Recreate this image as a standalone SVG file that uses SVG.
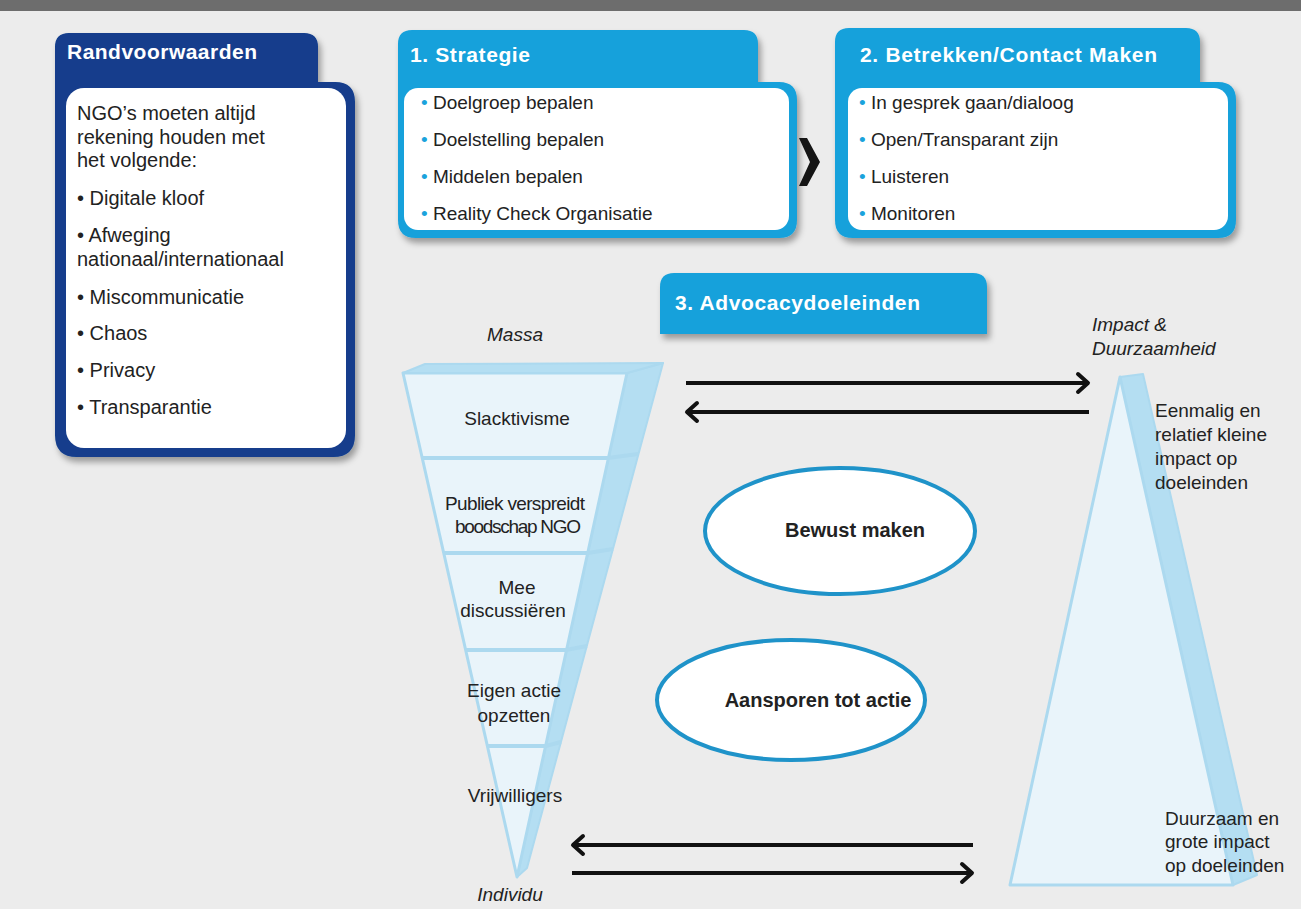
<svg xmlns="http://www.w3.org/2000/svg" width="1301" height="909" viewBox="0 0 1301 909">
  <defs>
    <filter id="shadow" x="-10%" y="-10%" width="125%" height="130%">
      <feDropShadow dx="3" dy="5" stdDeviation="3" flood-color="#000" flood-opacity="0.35"/>
    </filter>
    <marker id="head" markerUnits="userSpaceOnUse" markerWidth="20" markerHeight="24" viewBox="-14 -12 20 24" refX="0" refY="0" orient="auto">
      <path d="M-11,-9 L-1,0 L-11,9" fill="none" stroke="#111" stroke-width="4" stroke-linecap="round" stroke-linejoin="round"/>
    </marker>
    <style>
      text { font-family: "Liberation Sans", Arial, sans-serif; fill: #222; }
      .title { font-weight: bold; font-size: 21px; fill: #fff; }
      .body { font-size: 20px; }
      .item { font-size: 19px; }
      .bul { fill: #1aa3dc; }
      .lbl { font-size: 19px; }
      .it { font-size: 19px; font-style: italic; }
      .ell { fill: #fff; stroke: #1f93c9; stroke-width: 4; }
      .ell-t { font-size: 20px; font-weight: bold; }
      .navy { fill: #123d8c; }
      .blue { fill: #16a1db; }
      .face { fill: #e9f4fa; stroke: #acd9ef; stroke-width: 3; stroke-linejoin: round; }
      .side { fill: #b4def2; stroke: #acd9ef; stroke-width: 2; stroke-linejoin: round; }
      .div { stroke: #acd9ef; stroke-width: 4; fill: none; }
      .arrow { stroke: #111; stroke-width: 4; fill: none; }
    </style>
  </defs>

  <!-- page background and header band -->
  <rect x="0" y="0" width="1301" height="909" fill="#ececec"/>
  <rect x="0" y="0" width="1301" height="11" fill="#6d6d6d"/>

  <!-- Randvoorwaarden panel -->
  <g id="randvoorwaarden">
    <path class="navy" filter="url(#shadow)" d="M55,47 Q55,33 69,33 L304,33 Q318,33 318,47 L318,82 L335,82 Q355,82 355,102 L355,435 Q355,457 333,457 L77,457 Q55,457 55,435 Z"/>
    <rect x="66" y="88" width="280" height="360" rx="18" fill="#fff"/>
    <text class="title" x="67" y="59" textLength="190">Randvoorwaarden</text>
    <text class="body" x="77" y="120">NGO’s moeten altijd</text>
    <text class="body" x="77" y="144">rekening houden met</text>
    <text class="body" x="77" y="167">het volgende:</text>
    <text class="body" x="77" y="205">• Digitale kloof</text>
    <text class="body" x="77" y="242">• Afweging</text>
    <text class="body" x="77" y="266">nationaal/internationaal</text>
    <text class="body" x="77" y="304">• Miscommunicatie</text>
    <text class="body" x="77" y="340">• Chaos</text>
    <text class="body" x="77" y="377">• Privacy</text>
    <text class="body" x="77" y="414">• Transparantie</text>
  </g>

  <!-- 1. Strategie panel -->
  <g id="strategie">
    <path class="blue" filter="url(#shadow)" d="M398,44 Q398,30 412,30 L744,30 Q758,30 758,44 L758,82 L779,82 Q797,82 797,100 L797,220 Q797,238 779,238 L416,238 Q398,238 398,220 Z"/>
    <rect x="404" y="88" width="385" height="142" rx="14" fill="#fff"/>
    <text class="title" x="410" y="62" textLength="120">1. Strategie</text>
    <text class="item" x="421" y="109"><tspan class="bul">•</tspan> Doelgroep bepalen</text>
    <text class="item" x="421" y="146"><tspan class="bul">•</tspan> Doelstelling bepalen</text>
    <text class="item" x="421" y="183"><tspan class="bul">•</tspan> Middelen bepalen</text>
    <text class="item" x="421" y="220"><tspan class="bul">•</tspan> Reality Check Organisatie</text>
  </g>

  <!-- 2. Betrekken/Contact Maken panel -->
  <g id="betrekken">
    <path class="blue" filter="url(#shadow)" d="M835,42 Q835,28 849,28 L1186,28 Q1200,28 1200,42 L1200,82 L1218,82 Q1236,82 1236,100 L1236,220 Q1236,238 1218,238 L853,238 Q835,238 835,220 Z"/>
    <rect x="848" y="88" width="380" height="142" rx="14" fill="#fff"/>
    <text class="title" x="860" y="62" textLength="297">2. Betrekken/Contact Maken</text>
    <text class="item" x="859" y="109"><tspan class="bul">•</tspan> In gesprek gaan/dialoog</text>
    <text class="item" x="859" y="146"><tspan class="bul">•</tspan> Open/Transparant zijn</text>
    <text class="item" x="859" y="183"><tspan class="bul">•</tspan> Luisteren</text>
    <text class="item" x="859" y="220"><tspan class="bul">•</tspan> Monitoren</text>
  </g>

  <!-- step chevron between panels 1 and 2 -->
  <g id="chevron">
    <polygon points="799,138 807,138 820,162 807,186 799,186 810,162" fill="#151515"/>
  </g>

  <!-- 3. Advocacydoeleinden heading -->
  <g id="advocacy">
    <path class="blue" filter="url(#shadow)" d="M660,287 Q660,273 674,273 L973,273 Q987,273 987,287 L987,334 L660,334 Z"/>
    <text class="title" x="675" y="310" textLength="245">3. Advocacydoeleinden</text>
  </g>

  <!-- inverted funnel: from mass to individual -->
  <g id="funnel">
    <polygon class="side" points="627,373 663,363 527,868 517,877"/>
    <polygon class="face" points="403,373 627,373 517,877"/>
    <polygon class="side" points="403,373 425,364 663,363 627,373"/>
    <path class="div" d="M422,458 L608,458 L638,454"/>
    <path class="div" d="M444,553 L588,553 L613,549"/>
    <path class="div" d="M466,650 L566,650 L587,646"/>
    <path class="div" d="M487,746 L546,746 L561,742"/>
    <text class="it" x="515" y="341" text-anchor="middle">Massa</text>
    <text class="lbl" x="517" y="425" text-anchor="middle">Slacktivisme</text>
    <text class="lbl" x="515" y="510" text-anchor="middle" textLength="140">Publiek verspreidt</text>
    <text class="lbl" x="518" y="533" text-anchor="middle" textLength="126">boodschap NGO</text>
    <text class="lbl" x="517" y="594" text-anchor="middle">Mee</text>
    <text class="lbl" x="513" y="617" text-anchor="middle">discussiëren</text>
    <text class="lbl" x="514" y="697" text-anchor="middle">Eigen actie</text>
    <text class="lbl" x="514" y="722" text-anchor="middle">opzetten</text>
    <text class="lbl" x="515" y="802" text-anchor="middle">Vrijwilligers</text>
    <text class="it" x="510" y="901" text-anchor="middle">Individu</text>
  </g>

  <!-- pyramid: impact and durability -->
  <g id="pyramid">
    <polygon class="side" points="1120,377 1143,374 1257,875 1233,885"/>
    <polygon class="face" points="1120,377 1010,885 1233,885"/>
    <text class="it" x="1092" y="331">Impact &amp;</text>
    <text class="it" x="1092" y="355">Duurzaamheid</text>
    <text class="lbl" x="1155" y="417">Eenmalig en</text>
    <text class="lbl" x="1155" y="441">relatief kleine</text>
    <text class="lbl" x="1155" y="465">impact op</text>
    <text class="lbl" x="1155" y="489">doeleinden</text>
    <text class="lbl" x="1165" y="825">Duurzaam en</text>
    <text class="lbl" x="1165" y="848">grote impact</text>
    <text class="lbl" x="1165" y="872">op doeleinden</text>
  </g>

  <!-- goal ellipses -->
  <g id="bewust-maken">
    <ellipse class="ell" cx="840" cy="531" rx="135" ry="63"/>
    <text class="ell-t" x="855" y="537" text-anchor="middle">Bewust maken</text>
  </g>
  <g id="aansporen">
    <ellipse class="ell" cx="791" cy="700" rx="134" ry="60"/>
    <text class="ell-t" x="818" y="707" text-anchor="middle">Aansporen tot actie</text>
  </g>

  <!-- connectors -->
  <g id="connectors">
    <line class="arrow" x1="686" y1="383" x2="1089" y2="383" marker-end="url(#head)"/>
    <line class="arrow" x1="1089" y1="412" x2="686" y2="412" marker-end="url(#head)"/>
    <line class="arrow" x1="973" y1="845" x2="572" y2="845" marker-end="url(#head)"/>
    <line class="arrow" x1="572" y1="873" x2="973" y2="873" marker-end="url(#head)"/>
  </g>
</svg>
